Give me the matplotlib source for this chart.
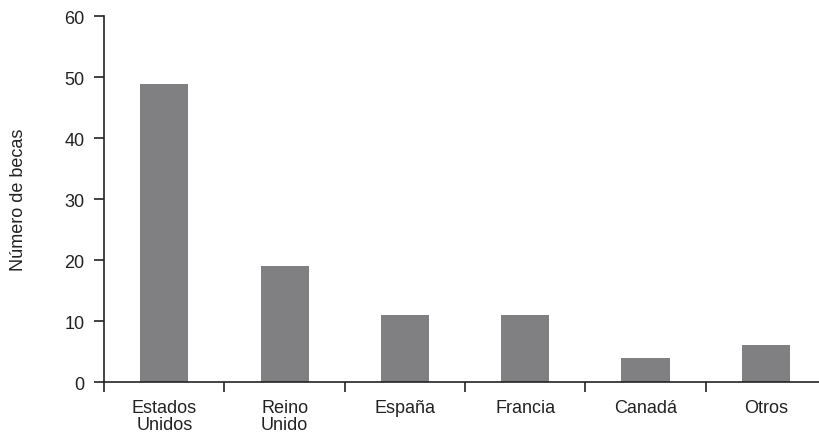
import matplotlib
matplotlib.use("Agg")
import matplotlib.pyplot as plt
import numpy as np

# Scholarships by destination country
countries = ["Estados\nUnidos", "Reino\nUnido", "España", "Francia", "Canadá", "Otros"]
becas = [49, 19, 11, 11, 4, 6]

plt.rcParams['font.family'] = ['Liberation Sans', 'DejaVu Sans']
text_color = "#222222"
bar_color = "#808083"

fig = plt.figure(figsize=(8.2, 4.35), dpi=100)
ax = fig.add_axes([0.127, 0.1195, 0.873, 0.8403])

x = np.arange(len(countries))
ax.bar(x, becas, width=0.4, color=bar_color)

ax.set_ylim(0, 60)
ax.set_xlim(-0.5, 5.45)
ax.set_yticks(range(0, 61, 10))
ax.set_xticks(x)
ax.set_xticklabels(countries, linespacing=1.05)
ax.set_xticks(np.arange(-0.5, 5.0, 1.0), minor=True)

ax.spines['top'].set_visible(False)
ax.spines['right'].set_visible(False)
for side in ('left', 'bottom'):
    ax.spines[side].set_color(text_color)
    ax.spines[side].set_linewidth(1.2)

ax.tick_params(axis='y', direction='out', length=7, width=1.2, pad=7,
               labelsize=13, colors=text_color)
ax.tick_params(axis='x', which='major', length=0, pad=12,
               labelsize=13, colors=text_color)
ax.tick_params(axis='x', which='minor', direction='out', length=7, width=1.2,
               color=text_color)

ax.set_ylabel("Número de becas", fontsize=13, color=text_color, labelpad=27)

fig.savefig("out.png", dpi=100)
